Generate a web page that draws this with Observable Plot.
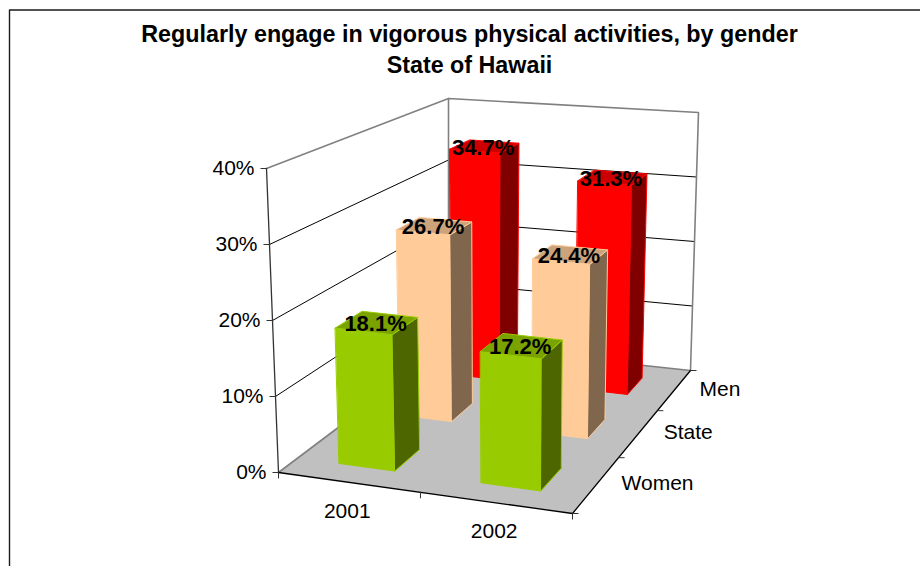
<!DOCTYPE html>
<html>
<head>
<meta charset="utf-8">
<script src="https://cdn.jsdelivr.net/npm/d3@7"></script>
<script src="https://cdn.jsdelivr.net/npm/@observablehq/plot@0.6"></script>
<style>
html,body{margin:0;padding:0;background:#fff}
svg{display:block;font-family:"Liberation Sans",Arial,sans-serif}
</style>
</head>
<body>
<div id="chart"></div>
<script>
const titleLines = ["Regularly engage in vigorous physical activities, by gender", "State of Hawaii"];
const years = ["2001", "2002"];
const seriesNames = ["Women", "State", "Men"];
const women = [18.1, 17.2];
const state = [26.7, 24.4];
const men = [34.7, 31.3];
const valueTicks = [0, 10, 20, 30, 40];
const maxValue = 40;

const frontColors = ["#99CC00", "#FFCC99", "#FF0000"];
const sideColors = ["#4D6600", "#80664D", "#800000"];
const topColors = ["#7AA300", "#CCA37A", "#CC0000"];

// Camera of the 3-D box: where its eight corners fall on the page.
const corners = {
  fl0: [278, 472], fr0: [572, 513], bl0: [448, 344], br0: [690, 370],
  fl1: [266, 168], fr1: [575, 197], bl1: [448, 98], br1: [698, 112]
};
const persp = (t, a) => a * t / (1 + (a - 1) * t);
const mix = (p, q, t) => [p[0] + (q[0] - p[0]) * t, p[1] + (q[1] - p[1]) * t];
function project(i, j, value) {
  const u = persp(i, 0.934), v = persp(j, 1.28), w = value / maxValue;
  const bottom = mix(mix(corners.fl0, corners.fr0, u), mix(corners.bl0, corners.br0, u), v);
  const top = mix(mix(corners.fl1, corners.fr1, u), mix(corners.bl1, corners.br1, u), v);
  return mix(bottom, top, w);
}
const pt = (i, j, value) => { const [x, y] = project(i, j, value); return {x, y}; };

const barWide = 0.2, barDeep = 0.138;
const seriesValues = [women, state, men];

function face(id, fill, stroke, pts) { return pts.map(p => ({...p, id, fill, stroke})); }
const bars = [];
[2, 1, 0].forEach(s => years.forEach((yr, c) => {
  const u0 = (c + 0.5) / years.length - barWide / 2 + 0.002, u1 = u0 + barWide;
  const v0 = (s + 0.5) / seriesNames.length - barDeep / 2 - 0.006, v1 = v0 + barDeep;
  const val = seriesValues[s][c];
  const st = frontColors[s];
  bars.push(
    ...face(`front${s}${c}`, frontColors[s], st, [pt(u0,v0,0), pt(u1,v0,0), pt(u1,v0,val), pt(u0,v0,val)]),
    ...face(`side${s}${c}`, sideColors[s], st, [pt(u1,v0,0), pt(u1,v1,0), pt(u1,v1,val), pt(u1,v0,val)]),
    ...face(`top${s}${c}`, topColors[s], st, [pt(u0,v0,val), pt(u1,v0,val), pt(u1,v1,val), pt(u0,v1,val)])
  );
}));

const labels = seriesNames.flatMap((name, s) => years.map((yr, c) => {
  const val = seriesValues[s][c];
  const p = pt((c + 0.5) / years.length, (s + 0.5) / seriesNames.length, val);
  return {...p, text: val.toFixed(1) + "%"};
}));

const floor = [pt(0,0,0), pt(1,0,0), pt(1,1,0), pt(0,1,0)];
const grid = valueTicks.filter(v => v > 0 && v < maxValue).flatMap(v => [
  {id: v, ...pt(0,0,v)}, {id: v, ...pt(0,1,v)}, {id: v, ...pt(1,1,v)}
]);
const wall = [pt(0,0,maxValue), pt(0,1,maxValue), pt(1,1,maxValue), pt(1,1,0), pt(0,1,0), pt(0,0,0)];
const wallCorner = [pt(0,1,0), pt(0,1,maxValue)];
const frontEdges = [pt(0,0,0), pt(1,0,0), pt(1,1,0)];
const valueAxis = [pt(0,0,0), pt(0,0,maxValue)];

const valueTickRows = valueTicks.map(v => ({v, ...pt(0,0,v)}));
const yearTicks = d3.range(years.length + 1).map(c => pt(c / years.length, 0, 0));
const seriesTicks = d3.range(seriesNames.length + 1).map(s => pt(1, s / seriesNames.length, 0));
const yearLabels = years.map((text, c) => ({text, ...pt((c + 0.5) / years.length, 0, 0)}));
const seriesLabels = seriesNames.map((text, s) => ({text, ...pt(1, (s + 0.5) / seriesNames.length, 0)}));

const chart = Plot.plot({
  width: 920, height: 566,
  margin: 0,
  x: {type: "identity", axis: null}, y: {type: "identity", axis: null},
  color: {type: "identity"},
  style: {fontFamily: '"Liberation Sans", Arial, sans-serif', background: "#fff"},
  marks: [
    // outer chart border, only its top and left sides are in view
    Plot.line([{x: 9, y: 566}, {x: 9, y: 9.5}, {x: 920, y: 9.5}], {x: "x", y: "y", stroke: "#1a1a1a", strokeWidth: 1.4}),
    Plot.text(titleLines, {text: d => d, x: 469, y: (d, i) => 34 + i * 31, fontWeight: "bold", fontSize: 23.3, fill: "black", lineAnchor: "middle"}),
    Plot.line(floor, {x: "x", y: "y", fill: "#C0C0C0", stroke: "none", curve: "linear-closed"}),
    Plot.line(grid, {x: "x", y: "y", z: "id", stroke: "black", strokeWidth: 1}),
    Plot.line(wall, {x: "x", y: "y", stroke: "#808080", strokeWidth: 1.6}),
    Plot.line(wallCorner, {x: "x", y: "y", stroke: "#808080", strokeWidth: 1.6}),
    Plot.line(valueAxis, {x: "x", y: "y", stroke: "#333", strokeWidth: 1.3}),
    Plot.line(frontEdges, {x: "x", y: "y", stroke: "black", strokeWidth: 1.3}),
    Plot.link(valueTickRows, {x1: d => d.x - 6, x2: "x", y1: "y", y2: "y", stroke: "#333", strokeWidth: 1}),
    Plot.link(yearTicks, {x1: "x", x2: "x", y1: "y", y2: d => d.y + 6, stroke: "#333", strokeWidth: 1}),
    Plot.link(seriesTicks, {x1: "x", x2: d => d.x + 6, y1: "y", y2: "y", stroke: "#333", strokeWidth: 1}),
    Plot.line(bars, {x: "x", y: "y", z: "id", fill: "fill", stroke: "stroke", strokeWidth: 1, curve: "linear-closed"}),
    Plot.text(valueTickRows, {x: d => d.x - 6, y: "y", text: d => d.v + "%", textAnchor: "end", fontSize: 21, fill: "black", lineAnchor: "middle", dx: -6}),
    Plot.text(yearLabels, {x: "x", y: "y", text: "text", fontSize: 21, fill: "black", lineAnchor: "middle", dx: -1, dy: 29}),
    Plot.text(seriesLabels, {x: "x", y: "y", text: "text", fontSize: 21, fill: "black", lineAnchor: "middle", textAnchor: "start", dx: 25, dy: -1}),
    Plot.text(labels, {x: "x", y: "y", text: "text", fontSize: 22, fontWeight: "bold", fill: "black", lineAnchor: "middle", dx: -2, dy: 2})
  ]
});
document.getElementById("chart").append(chart);
</script>
</body>
</html>
